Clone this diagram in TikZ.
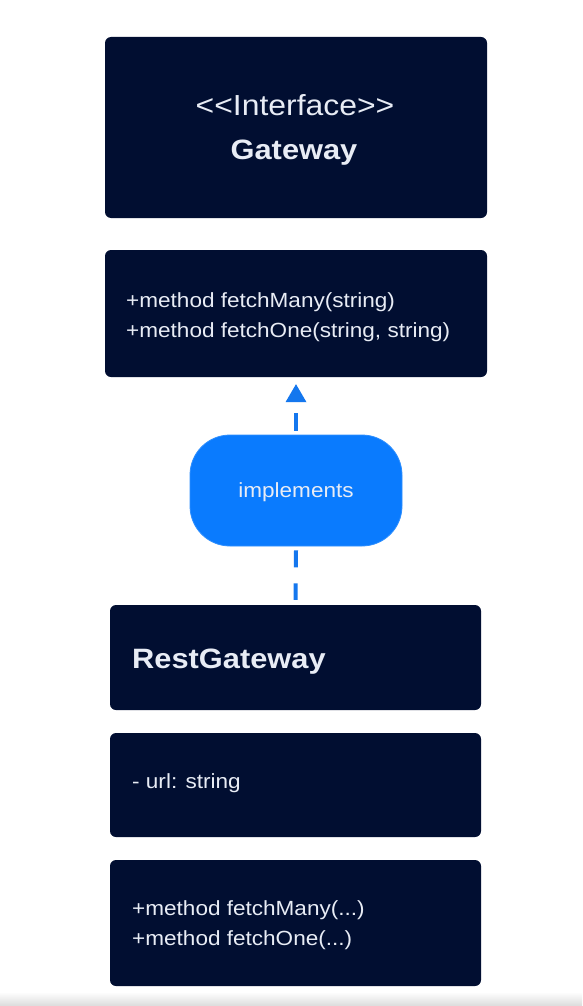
\documentclass[tikz,border=0pt]{standalone}
\usepackage{fontspec}
\setmainfont{Liberation Sans}[FakeStretch=1.1]
\usetikzlibrary{arrows.meta}
\definecolor{navy}{HTML}{010E31}
\definecolor{pillblue}{HTML}{0A7BFE}
\definecolor{lineblue}{HTML}{1477EE}
\definecolor{txtcol}{HTML}{E8ECF5}
\begin{document}
\begin{tikzpicture}[x=1pt,y=-1pt,
  box/.style={fill=navy, draw=none, rounded corners=6pt, inner sep=0pt},
  pillbox/.style={fill=pillblue, draw=pillblue!85!white, line width=0.8pt, rounded corners=40pt, inner sep=0pt, minimum width=212pt, minimum height=111pt},
  txt/.style={text=txtcol, inner sep=0pt, font=\fontsize{20.5}{24}\selectfont},
  ttl/.style={text=txtcol, inner sep=0pt, font=\fontsize{28}{32}\selectfont\bfseries},
  conn/.style={draw=lineblue, line width=4pt, dash pattern=on 17pt off 16pt},
]
\useasboundingbox (0,0) rectangle (582,1006);
\fill[white] (0,0) rectangle (582,1006);
\shade[top color=white, bottom color=black!14] (0,992) rectangle (582,1006);

% boxes
\node[box, minimum width=382pt, minimum height=181pt] (b1) at (296,127.5) {};
\node[box, minimum width=382pt, minimum height=127pt] (b2) at (296,313.5) {};
\node[pillbox, text=txtcol, font=\fontsize{20.5}{24}\selectfont, text height=15pt, text depth=2pt] (pill) at (296,490.5) {implements};
\node[box, minimum width=371pt, minimum height=105pt] (b3) at (295.5,657.5) {};
\node[box, minimum width=371pt, minimum height=104pt] (b4) at (295.5,785) {};
\node[box, minimum width=371pt, minimum height=126pt] (b5) at (295.5,923) {};

% texts
\node[txt, font=\fontsize{29}{32}\selectfont, anchor=base] (t1) at (295,116) {<{}<Interface>{}>};
\node[ttl, anchor=base] (t2) at (294,159) {Gateway};
\node[txt, anchor=base west] (m1) at (126,307) {+method fetchMany(string)};
\node[txt, anchor=base west] (m2) at (126,337) {+method fetchOne(string, string)};
\node[ttl, anchor=base west] (t3) at (132,668) {RestGateway};
\node[txt, anchor=base west] (a1) at (132,788) {- url: string};
\node[txt, anchor=base west] (m3) at (132,915) {+method fetchMany(...)};
\node[txt, anchor=base west] (m4) at (132,945) {+method fetchOne(...)};

% connectors
\draw[conn, dash pattern=on 18pt off 11pt, -{Triangle[length=18pt,width=21pt,line width=0pt,fill=lineblue]}] ([yshift=4pt]pill.north) -- ([yshift=-7pt]b2.south);
\draw[conn] ([yshift=-4pt]pill.south) -- ([yshift=5pt]b3.north);
\end{tikzpicture}
\end{document}
